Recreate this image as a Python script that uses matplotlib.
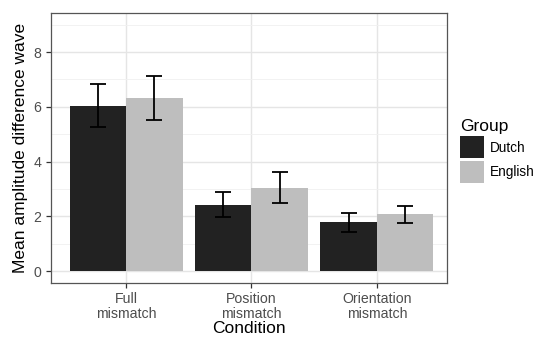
import numpy as np
import matplotlib.pyplot as plt
from matplotlib.patches import Patch

plt.rcParams['font.family'] = ['Liberation Sans', 'DejaVu Sans']

conditions = ['Full\nmismatch', 'Position\nmismatch', 'Orientation\nmismatch']
groups = ['Dutch', 'English']
colors = ['#222222', '#bebebe']

means = {
    'Dutch':   [6.03, 2.43, 1.78],
    'English': [6.32, 3.05, 2.07],
}
lower = {
    'Dutch':   [5.25, 1.97, 1.43],
    'English': [5.53, 2.49, 1.75],
}
upper = {
    'Dutch':   [6.83, 2.88, 2.12],
    'English': [7.12, 3.62, 2.38],
}

fig = plt.figure(figsize=(5.36, 3.37), dpi=100)
ax = fig.add_axes([0.095, 0.160, 0.739, 0.801])

x = np.arange(len(conditions))
width = 0.45
for i, g in enumerate(groups):
    pos = x + (i - 0.5) * width
    m = np.array(means[g])
    yerr = [m - np.array(lower[g]), np.array(upper[g]) - m]
    ax.bar(pos, m, width=width, color=colors[i], zorder=2)
    ax.errorbar(pos, m, yerr=yerr, fmt='none', ecolor='black',
                elinewidth=1.3, capsize=5.8, capthick=1.3, zorder=3)

ax.set_xlim(-0.6, 2.56)
ax.set_ylim(-0.44, 9.42)
ax.set_xticks(x)
ax.set_xticklabels(conditions)
ax.set_yticks([0, 2, 4, 6, 8])
ax.set_yticks([1, 3, 5, 7, 9], minor=True)

ax.set_facecolor('white')
ax.grid(True, which='major', color='#e5e5e5', linewidth=1.0, zorder=0)
ax.grid(True, which='minor', axis='y', color='#f0f0f0', linewidth=0.6, zorder=0)
ax.set_axisbelow(True)
for s in ax.spines.values():
    s.set_color('#555555')
    s.set_linewidth(0.9)

ax.tick_params(axis='both', which='major', labelsize=10.2, labelcolor='#4d4d4d',
               color='#333333', length=3.5, width=0.9)
ax.tick_params(axis='x', which='major', pad=3)
ax.tick_params(axis='both', which='minor', length=0)
for lbl in ax.get_xticklabels():
    lbl.set_linespacing(1.05)

ax.set_xlabel('Condition', fontsize=12.5, labelpad=0)
ax.set_ylabel('Mean amplitude difference wave', fontsize=12.5, labelpad=4)

handles = [Patch(facecolor=c, edgecolor='none') for c in colors]
leg = ax.legend(handles, groups, title='Group', loc='center left',
                bbox_to_anchor=(1.02, 0.49), frameon=False, fontsize=9.8,
                title_fontsize=12.5, handlelength=1.7, handleheight=2.1,
                handletextpad=0.45, labelspacing=0.2, borderaxespad=0)
leg._legend_box.align = 'left'

fig.savefig('out.png', dpi=100)
